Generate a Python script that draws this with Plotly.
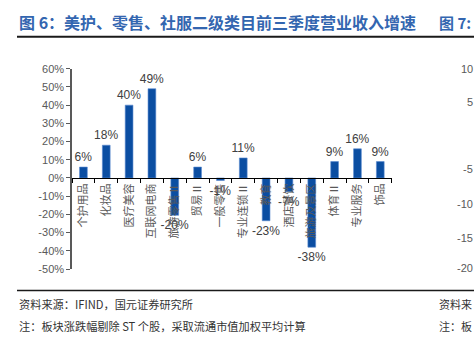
import plotly.graph_objects as go

categories = ["个护用品", "化妆品", "医疗美容", "互联网电商", "旅游零售Ⅱ", "贸易Ⅱ", "一般零售",
              "专业连锁Ⅱ", "教育", "酒店餐饮", "旅游及景区", "体育Ⅱ", "专业服务", "饰品"]
growth = [6, 18, 40, 49, -20.5, 6, -1.4, 11, -23.5, -7.5, -38, 9, 16, 9]
labels = ["6%", "18%", "40%", "49%", "-20%", "6%", "-1%", "11%", "-23%", "-7%", "-38%", "9%", "16%", "9%"]
y_ticks = [60, 50, 40, 30, 20, 10, 0, -10, -20, -30, -40, -50]
y_ticktext = [f"{v}%" for v in y_ticks]

title = "图 6：美护、零售、社服二级类目前三季度营业收入增速"
title2 = "图 7:"
source = "资料来源：IFIND，国元证券研究所"
note = "注：板块涨跌幅剔除 ST 个股，采取流通市值加权平均计算"
source2 = "资料来"
note2 = "注：板"
# visible fragments of the neighbouring chart's tick labels (cut at the page edge)
right_ticks = ["10", "5", "-5", "-10", "-15", "-20"]
right_tick_y = [65, 100, 169, 205, 240, 272]

W, H = 474, 339
ymin, ymax = -50, 60
dom_y = [1 - 272.7 / H, 1 - 65 / H]
zero_pos = dom_y[0] + (0 - ymin) / (ymax - ymin) * (dom_y[1] - dom_y[0])

fig = go.Figure()
fig.add_trace(go.Bar(
    x=categories, y=growth, text=labels, textposition="outside",
    constraintext="none", cliponaxis=False,
    textfont=dict(family="Liberation Sans, Arial", size=12, color="#404040"),
    marker=dict(color="#0B4EA2", line=dict(width=0.6, color="#5b8ad0")),
))

fig.update_layout(
    width=W, height=H, margin=dict(l=0, r=0, t=0, b=0),
    paper_bgcolor="white", plot_bgcolor="white", showlegend=False,
    bargap=0.66,
    font=dict(family="Noto Sans CJK SC", color="#595959"),
    xaxis=dict(domain=[72 / W, 391.7 / W], anchor="free", position=zero_pos,
               showline=True, linecolor="#000000", linewidth=1.3,
               ticks="outside", ticklen=4, tickcolor="#000000", tickson="boundaries",
               tickangle=-90, tickfont=dict(family="Noto Sans CJK SC", size=11, color="#595959"),
               showgrid=False, zeroline=False),
    yaxis=dict(domain=dom_y, range=[ymin, ymax], tickmode="array",
               tickvals=y_ticks, ticktext=y_ticktext,
               showline=True, linecolor="#595959", linewidth=1.5,
               ticks="outside", ticklen=4, tickcolor="#595959",
               tickfont=dict(family="Liberation Sans, Arial", size=11, color="#595959"),
               showgrid=False, zeroline=False),
)

anns = [
    dict(text="<b>" + title + "</b>", x=17 / W, y=1 - 17 / H, xanchor="left", yanchor="middle",
         font=dict(size=16, color="#3366B0", family="Noto Sans CJK SC")),
    dict(text="<b>" + title2 + "</b>", x=473 / W, y=1 - 17 / H, xanchor="right", yanchor="middle",
         font=dict(size=15, color="#3366B0", family="Noto Sans CJK SC")),
    dict(text=source, x=17 / W, y=1 - 309 / H, xanchor="left", yanchor="middle",
         font=dict(size=11.2, color="#333333")),
    dict(text=note, x=17 / W, y=1 - 332 / H, xanchor="left", yanchor="middle",
         font=dict(size=11.2, color="#333333")),
    dict(text=source2, x=474 / W, y=1 - 309 / H, xanchor="right", yanchor="middle",
         font=dict(size=11, color="#333333")),
    dict(text=note2, x=474 / W, y=1 - 332 / H, xanchor="right", yanchor="middle",
         font=dict(size=11, color="#333333")),
]
for t, yy in zip(right_ticks, right_tick_y):
    anns.append(dict(text=t, x=475 / W, y=1 - yy / H, xanchor="right", yanchor="middle",
                     font=dict(size=11, color="#595959", family="Liberation Sans, Arial")))
for a in anns:
    a.update(xref="paper", yref="paper", showarrow=False)
fig.update_layout(annotations=anns)

fig.add_shape(type="line", xref="paper", yref="paper", x0=17 / W, x1=1, y0=1 - 32 / H, y1=1 - 32 / H,
              line=dict(color="#1a1a1a", width=2))
fig.add_shape(type="line", xref="paper", yref="paper", x0=17 / W, x1=1, y0=1 - 295 / H, y1=1 - 295 / H,
              line=dict(color="#1a1a1a", width=1.5))

fig.write_html("out.html")
